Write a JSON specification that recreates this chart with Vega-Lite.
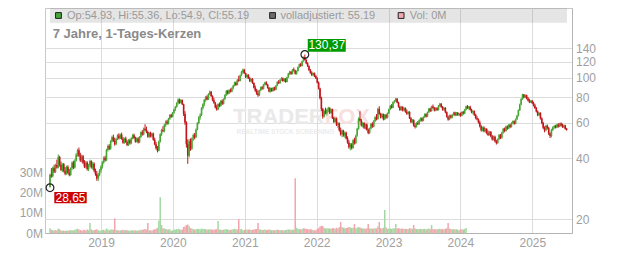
{
  "$schema": "https://vega.github.io/schema/vega-lite/v6.json",
  "width": 527,
  "height": 225,
  "autosize": "none",
  "padding": {"left": 45, "top": 8, "right": 60, "bottom": 20},
  "background": "white",
  "title": {"text": "7 Jahre, 1-Tages-Kerzen", "anchor": "start", "frame": "group", "orient": "top", "offset": -43, "dx": 7.7, "fontSize": 13, "fontWeight": "bold", "color": "#8a8a8a", "font": "Liberation Sans", "baseline": "alphabetic"},
  "config": {
    "font": "Liberation Sans",
    "view": {"stroke": "#c8c8c8", "strokeWidth": 1},
    "axis": {"labelColor": "#a0a0a0", "labelFontSize": 12, "labelFont": "Liberation Sans", "gridColor": "#dcdcdc", "gridWidth": 1, "domainColor": "#b4b4b4", "ticks": false}
  },
  "datasets": {
    "ohlc": [
      {"d":"2018-04-17","o":28.9,"h":33.6,"l":28.65,"c":33.2,"v":2.4},
      {"d":"2018-04-24","o":33.2,"h":35.8,"l":32.1,"c":32.6,"v":1.6},
      {"d":"2018-05-01","o":32.6,"h":36.4,"l":32.2,"c":35.9,"v":1.4},
      {"d":"2018-05-08","o":35.9,"h":37.2,"l":33.8,"c":34.3,"v":1.2},
      {"d":"2018-05-15","o":34.3,"h":37.6,"l":33.9,"c":37.1,"v":1.5},
      {"d":"2018-05-22","o":37.1,"h":39.4,"l":35.6,"c":36.0,"v":1.3},
      {"d":"2018-05-29","o":36.0,"h":41.8,"l":35.7,"c":40.6,"v":2.2},
      {"d":"2018-06-05","o":40.6,"h":41.2,"l":36.4,"c":37.2,"v":1.8},
      {"d":"2018-06-12","o":37.2,"h":38.6,"l":34.6,"c":35.0,"v":1.3},
      {"d":"2018-06-19","o":35.0,"h":37.9,"l":34.2,"c":37.4,"v":1.1},
      {"d":"2018-06-26","o":37.4,"h":38.0,"l":34.1,"c":34.6,"v":1.2},
      {"d":"2018-07-03","o":34.6,"h":36.2,"l":33.0,"c":33.6,"v":1.0},
      {"d":"2018-07-10","o":33.6,"h":36.8,"l":33.2,"c":36.3,"v":1.2},
      {"d":"2018-07-17","o":36.3,"h":37.0,"l":33.4,"c":34.0,"v":1.1},
      {"d":"2018-07-24","o":34.0,"h":35.4,"l":32.6,"c":33.1,"v":1.3},
      {"d":"2018-07-31","o":33.1,"h":36.1,"l":32.8,"c":35.8,"v":1.4},
      {"d":"2018-08-07","o":35.8,"h":38.6,"l":35.0,"c":38.1,"v":1.5},
      {"d":"2018-08-14","o":38.1,"h":38.9,"l":35.4,"c":36.0,"v":1.2},
      {"d":"2018-08-21","o":36.0,"h":39.6,"l":35.6,"c":39.0,"v":1.6},
      {"d":"2018-08-28","o":39.0,"h":42.4,"l":38.6,"c":41.8,"v":1.9},
      {"d":"2018-09-04","o":41.8,"h":44.6,"l":40.8,"c":43.9,"v":2.1},
      {"d":"2018-09-11","o":43.9,"h":45.2,"l":40.6,"c":41.2,"v":1.7},
      {"d":"2018-09-18","o":41.2,"h":42.6,"l":38.4,"c":39.0,"v":1.5},
      {"d":"2018-09-25","o":39.0,"h":41.8,"l":38.2,"c":41.0,"v":1.2},
      {"d":"2018-10-02","o":41.0,"h":41.6,"l":37.4,"c":38.0,"v":1.4},
      {"d":"2018-10-09","o":38.0,"h":39.2,"l":35.8,"c":36.4,"v":1.6},
      {"d":"2018-10-16","o":36.4,"h":38.8,"l":35.7,"c":38.2,"v":1.3},
      {"d":"2018-10-23","o":38.2,"h":38.7,"l":34.8,"c":35.4,"v":1.7},
      {"d":"2018-10-30","o":35.4,"h":37.6,"l":34.6,"c":37.0,"v":1.4},
      {"d":"2018-11-06","o":37.0,"h":39.4,"l":36.2,"c":38.8,"v":5.0},
      {"d":"2018-11-13","o":38.8,"h":39.1,"l":35.6,"c":36.1,"v":1.8},
      {"d":"2018-11-20","o":36.1,"h":38.4,"l":35.2,"c":37.6,"v":1.3},
      {"d":"2018-11-27","o":37.6,"h":38.2,"l":34.2,"c":34.8,"v":1.5},
      {"d":"2018-12-04","o":34.8,"h":35.6,"l":32.8,"c":33.4,"v":1.6},
      {"d":"2018-12-11","o":33.4,"h":34.6,"l":31.0,"c":31.8,"v":1.9},
      {"d":"2018-12-18","o":31.8,"h":33.9,"l":30.9,"c":33.2,"v":1.4},
      {"d":"2018-12-25","o":33.2,"h":35.4,"l":32.6,"c":34.9,"v":1.1},
      {"d":"2019-01-01","o":34.9,"h":37.0,"l":34.0,"c":36.4,"v":1.3},
      {"d":"2019-01-08","o":36.4,"h":38.8,"l":35.6,"c":38.2,"v":1.5},
      {"d":"2019-01-15","o":38.2,"h":40.9,"l":37.6,"c":40.3,"v":1.6},
      {"d":"2019-01-22","o":40.3,"h":41.2,"l":38.5,"c":39.1,"v":1.2},
      {"d":"2019-01-29","o":39.1,"h":44.6,"l":38.8,"c":44.0,"v":2.3},
      {"d":"2019-02-05","o":44.0,"h":46.8,"l":43.2,"c":46.1,"v":1.8},
      {"d":"2019-02-12","o":46.1,"h":47.0,"l":43.9,"c":44.6,"v":1.4},
      {"d":"2019-02-19","o":44.6,"h":49.2,"l":44.1,"c":48.6,"v":1.7},
      {"d":"2019-02-26","o":48.6,"h":51.8,"l":47.9,"c":50.9,"v":1.9},
      {"d":"2019-03-05","o":50.9,"h":52.4,"l":48.2,"c":49.0,"v":1.6},
      {"d":"2019-03-12","o":49.0,"h":50.6,"l":46.2,"c":47.0,"v":7.3},
      {"d":"2019-03-19","o":47.0,"h":50.4,"l":46.5,"c":49.8,"v":1.5},
      {"d":"2019-03-26","o":49.8,"h":52.6,"l":49.2,"c":51.9,"v":1.4},
      {"d":"2019-04-02","o":51.9,"h":53.2,"l":49.6,"c":50.3,"v":1.3},
      {"d":"2019-04-09","o":50.3,"h":53.0,"l":49.8,"c":52.4,"v":1.2},
      {"d":"2019-04-16","o":52.4,"h":53.6,"l":49.4,"c":50.0,"v":1.4},
      {"d":"2019-04-23","o":50.0,"h":51.0,"l":47.2,"c":47.8,"v":1.6},
      {"d":"2019-04-30","o":47.8,"h":50.6,"l":47.2,"c":50.1,"v":1.3},
      {"d":"2019-05-07","o":50.1,"h":51.2,"l":47.6,"c":48.2,"v":1.5},
      {"d":"2019-05-14","o":48.2,"h":49.1,"l":46.0,"c":46.6,"v":1.4},
      {"d":"2019-05-21","o":46.6,"h":49.8,"l":46.1,"c":49.2,"v":1.2},
      {"d":"2019-05-28","o":49.2,"h":50.0,"l":46.8,"c":47.5,"v":1.1},
      {"d":"2019-06-04","o":47.5,"h":50.9,"l":47.0,"c":50.2,"v":1.3},
      {"d":"2019-06-11","o":50.2,"h":52.8,"l":49.6,"c":52.1,"v":1.4},
      {"d":"2019-06-18","o":52.1,"h":53.0,"l":49.9,"c":50.4,"v":1.2},
      {"d":"2019-06-25","o":50.4,"h":51.2,"l":47.8,"c":48.4,"v":1.3},
      {"d":"2019-07-02","o":48.4,"h":50.8,"l":47.9,"c":50.2,"v":1.1},
      {"d":"2019-07-09","o":50.2,"h":50.9,"l":47.4,"c":48.0,"v":1.2},
      {"d":"2019-07-16","o":48.0,"h":51.6,"l":47.6,"c":51.0,"v":1.3},
      {"d":"2019-07-23","o":51.0,"h":54.4,"l":50.5,"c":53.8,"v":1.6},
      {"d":"2019-07-30","o":53.8,"h":55.2,"l":51.8,"c":52.6,"v":1.5},
      {"d":"2019-08-06","o":52.6,"h":56.8,"l":52.0,"c":56.1,"v":1.8},
      {"d":"2019-08-13","o":56.1,"h":59.0,"l":54.6,"c":55.2,"v":2.0},
      {"d":"2019-08-20","o":55.2,"h":57.4,"l":53.2,"c":54.0,"v":1.6},
      {"d":"2019-08-27","o":54.0,"h":54.8,"l":50.6,"c":51.2,"v":5.0},
      {"d":"2019-09-03","o":51.2,"h":54.0,"l":50.4,"c":53.4,"v":1.4},
      {"d":"2019-09-10","o":53.4,"h":54.2,"l":50.8,"c":51.4,"v":1.3},
      {"d":"2019-09-17","o":51.4,"h":53.6,"l":50.6,"c":53.0,"v":1.2},
      {"d":"2019-09-24","o":53.0,"h":53.6,"l":48.9,"c":49.4,"v":1.6},
      {"d":"2019-10-01","o":49.4,"h":50.6,"l":46.4,"c":47.0,"v":1.8},
      {"d":"2019-10-08","o":47.0,"h":48.2,"l":44.2,"c":44.9,"v":2.0},
      {"d":"2019-10-15","o":44.9,"h":46.0,"l":42.8,"c":43.6,"v":2.6},
      {"d":"2019-10-22","o":43.6,"h":49.0,"l":43.3,"c":48.4,"v":6.2},
      {"d":"2019-10-29","o":48.4,"h":53.2,"l":47.8,"c":52.6,"v":17.8},
      {"d":"2019-11-05","o":52.6,"h":56.0,"l":51.6,"c":55.3,"v":4.0},
      {"d":"2019-11-12","o":55.3,"h":57.6,"l":53.9,"c":54.4,"v":2.4},
      {"d":"2019-11-19","o":54.4,"h":59.2,"l":53.8,"c":58.6,"v":2.2},
      {"d":"2019-11-26","o":58.6,"h":61.6,"l":57.2,"c":60.8,"v":2.0},
      {"d":"2019-12-03","o":60.8,"h":62.0,"l":58.6,"c":59.4,"v":1.7},
      {"d":"2019-12-10","o":59.4,"h":63.4,"l":58.8,"c":62.8,"v":1.8},
      {"d":"2019-12-17","o":62.8,"h":66.2,"l":62.0,"c":65.6,"v":1.9},
      {"d":"2019-12-24","o":65.6,"h":66.4,"l":63.4,"c":64.2,"v":1.0},
      {"d":"2019-12-31","o":64.2,"h":67.8,"l":63.8,"c":67.2,"v":1.4},
      {"d":"2020-01-07","o":67.2,"h":70.4,"l":66.4,"c":69.8,"v":1.6},
      {"d":"2020-01-14","o":69.8,"h":72.6,"l":68.6,"c":71.9,"v":1.7},
      {"d":"2020-01-21","o":71.9,"h":75.8,"l":71.2,"c":75.1,"v":1.9},
      {"d":"2020-01-28","o":75.1,"h":79.2,"l":73.8,"c":78.0,"v":2.1},
      {"d":"2020-02-04","o":78.0,"h":79.0,"l":74.4,"c":75.2,"v":1.8},
      {"d":"2020-02-11","o":75.2,"h":78.4,"l":74.6,"c":77.6,"v":1.6},
      {"d":"2020-02-18","o":77.6,"h":78.2,"l":73.4,"c":74.0,"v":1.7},
      {"d":"2020-02-25","o":74.0,"h":74.6,"l":64.8,"c":66.2,"v":3.0},
      {"d":"2020-03-03","o":66.2,"h":68.4,"l":58.6,"c":60.2,"v":3.2},
      {"d":"2020-03-10","o":60.2,"h":61.0,"l":45.2,"c":47.0,"v":4.0},
      {"d":"2020-03-17","o":47.0,"h":49.6,"l":37.6,"c":41.2,"v":4.2},
      {"d":"2020-03-24","o":41.2,"h":49.8,"l":40.4,"c":48.6,"v":3.3},
      {"d":"2020-03-31","o":48.6,"h":50.2,"l":43.6,"c":44.6,"v":2.4},
      {"d":"2020-04-07","o":44.6,"h":50.8,"l":44.0,"c":50.1,"v":2.2},
      {"d":"2020-04-14","o":50.1,"h":53.0,"l":48.8,"c":52.2,"v":1.9},
      {"d":"2020-04-21","o":52.2,"h":53.4,"l":49.6,"c":50.8,"v":1.7},
      {"d":"2020-04-28","o":50.8,"h":56.2,"l":50.4,"c":55.6,"v":1.9},
      {"d":"2020-05-05","o":55.6,"h":60.4,"l":55.0,"c":59.8,"v":2.0},
      {"d":"2020-05-12","o":59.8,"h":64.6,"l":59.0,"c":63.8,"v":2.1},
      {"d":"2020-05-19","o":63.8,"h":66.8,"l":62.2,"c":65.4,"v":1.8},
      {"d":"2020-05-26","o":65.4,"h":71.6,"l":64.8,"c":70.9,"v":2.2},
      {"d":"2020-06-02","o":70.9,"h":74.8,"l":69.6,"c":74.0,"v":2.0},
      {"d":"2020-06-09","o":74.0,"h":78.6,"l":72.4,"c":77.8,"v":2.1},
      {"d":"2020-06-16","o":77.8,"h":81.4,"l":76.2,"c":80.6,"v":1.9},
      {"d":"2020-06-23","o":80.6,"h":82.0,"l":77.4,"c":78.2,"v":1.6},
      {"d":"2020-06-30","o":78.2,"h":84.0,"l":77.8,"c":83.2,"v":1.8},
      {"d":"2020-07-07","o":83.2,"h":86.6,"l":82.0,"c":85.4,"v":1.9},
      {"d":"2020-07-14","o":85.4,"h":86.0,"l":80.4,"c":81.2,"v":1.8},
      {"d":"2020-07-21","o":81.2,"h":82.0,"l":76.6,"c":77.4,"v":1.7},
      {"d":"2020-07-28","o":77.4,"h":79.6,"l":74.4,"c":75.2,"v":1.6},
      {"d":"2020-08-04","o":75.2,"h":76.0,"l":70.6,"c":71.4,"v":1.8},
      {"d":"2020-08-11","o":71.4,"h":73.6,"l":68.8,"c":69.8,"v":1.9},
      {"d":"2020-08-18","o":69.8,"h":74.8,"l":69.2,"c":74.2,"v":6.0},
      {"d":"2020-08-25","o":74.2,"h":75.6,"l":71.6,"c":72.6,"v":1.7},
      {"d":"2020-09-01","o":72.6,"h":77.6,"l":72.0,"c":77.0,"v":1.6},
      {"d":"2020-09-08","o":77.0,"h":78.2,"l":73.4,"c":74.4,"v":1.5},
      {"d":"2020-09-15","o":74.4,"h":79.2,"l":73.8,"c":78.6,"v":1.7},
      {"d":"2020-09-22","o":78.6,"h":83.0,"l":77.8,"c":82.2,"v":1.8},
      {"d":"2020-09-29","o":82.2,"h":87.0,"l":81.4,"c":86.1,"v":2.0},
      {"d":"2020-10-06","o":86.1,"h":87.2,"l":82.6,"c":83.6,"v":1.7},
      {"d":"2020-10-13","o":83.6,"h":87.8,"l":83.0,"c":86.9,"v":1.6},
      {"d":"2020-10-20","o":86.9,"h":88.6,"l":84.6,"c":85.4,"v":1.5},
      {"d":"2020-10-27","o":85.4,"h":89.8,"l":84.8,"c":88.9,"v":1.7},
      {"d":"2020-11-03","o":88.9,"h":92.4,"l":87.6,"c":91.6,"v":1.9},
      {"d":"2020-11-10","o":91.6,"h":95.8,"l":90.6,"c":94.8,"v":2.0},
      {"d":"2020-11-17","o":94.8,"h":96.0,"l":91.2,"c":92.2,"v":1.7},
      {"d":"2020-11-24","o":92.2,"h":98.6,"l":91.8,"c":97.8,"v":1.8},
      {"d":"2020-12-01","o":97.8,"h":102.4,"l":95.6,"c":96.4,"v":7.0},
      {"d":"2020-12-08","o":96.4,"h":103.6,"l":96.0,"c":102.8,"v":1.9},
      {"d":"2020-12-15","o":102.8,"h":108.2,"l":102.0,"c":107.2,"v":2.0},
      {"d":"2020-12-22","o":107.2,"h":111.0,"l":104.8,"c":109.6,"v":1.4},
      {"d":"2020-12-29","o":109.6,"h":110.8,"l":104.6,"c":105.4,"v":1.5},
      {"d":"2021-01-05","o":105.4,"h":106.2,"l":99.8,"c":101.0,"v":1.8},
      {"d":"2021-01-12","o":101.0,"h":104.6,"l":99.2,"c":103.4,"v":1.6},
      {"d":"2021-01-19","o":103.4,"h":104.2,"l":98.6,"c":99.4,"v":1.7},
      {"d":"2021-01-26","o":99.4,"h":101.2,"l":95.2,"c":96.2,"v":1.8},
      {"d":"2021-02-02","o":96.2,"h":99.8,"l":95.0,"c":98.6,"v":1.5},
      {"d":"2021-02-09","o":98.6,"h":99.6,"l":93.4,"c":94.2,"v":1.6},
      {"d":"2021-02-16","o":94.2,"h":95.0,"l":88.6,"c":89.4,"v":1.8},
      {"d":"2021-02-23","o":89.4,"h":91.6,"l":85.2,"c":86.4,"v":1.9},
      {"d":"2021-03-02","o":86.4,"h":88.2,"l":82.4,"c":83.6,"v":2.0},
      {"d":"2021-03-09","o":83.6,"h":86.8,"l":80.6,"c":82.0,"v":5.0},
      {"d":"2021-03-16","o":82.0,"h":87.4,"l":81.2,"c":86.8,"v":1.8},
      {"d":"2021-03-23","o":86.8,"h":90.6,"l":85.8,"c":89.8,"v":1.7},
      {"d":"2021-03-30","o":89.8,"h":91.2,"l":87.2,"c":88.2,"v":1.5},
      {"d":"2021-04-06","o":88.2,"h":93.4,"l":87.6,"c":92.6,"v":1.6},
      {"d":"2021-04-13","o":92.6,"h":95.6,"l":91.4,"c":94.8,"v":1.7},
      {"d":"2021-04-20","o":94.8,"h":96.2,"l":91.8,"c":92.6,"v":1.5},
      {"d":"2021-04-27","o":92.6,"h":93.4,"l":88.4,"c":89.2,"v":1.6},
      {"d":"2021-05-04","o":89.2,"h":90.0,"l":84.8,"c":85.6,"v":1.8},
      {"d":"2021-05-11","o":85.6,"h":89.6,"l":84.6,"c":88.8,"v":1.6},
      {"d":"2021-05-18","o":88.8,"h":89.4,"l":85.2,"c":86.0,"v":1.4},
      {"d":"2021-05-25","o":86.0,"h":90.2,"l":85.6,"c":89.4,"v":1.5},
      {"d":"2021-06-01","o":89.4,"h":90.4,"l":86.4,"c":87.4,"v":1.3},
      {"d":"2021-06-08","o":87.4,"h":92.2,"l":86.8,"c":91.4,"v":1.5},
      {"d":"2021-06-15","o":91.4,"h":96.2,"l":90.8,"c":95.4,"v":1.7},
      {"d":"2021-06-22","o":95.4,"h":97.4,"l":93.2,"c":94.0,"v":1.5},
      {"d":"2021-06-29","o":94.0,"h":98.6,"l":93.6,"c":97.8,"v":1.4},
      {"d":"2021-07-06","o":97.8,"h":100.8,"l":96.6,"c":99.6,"v":1.5},
      {"d":"2021-07-13","o":99.6,"h":100.4,"l":95.6,"c":96.4,"v":1.4},
      {"d":"2021-07-20","o":96.4,"h":99.8,"l":95.2,"c":98.8,"v":1.3},
      {"d":"2021-07-27","o":98.8,"h":99.6,"l":94.6,"c":95.4,"v":1.5},
      {"d":"2021-08-03","o":95.4,"h":101.4,"l":95.0,"c":100.6,"v":1.6},
      {"d":"2021-08-10","o":100.6,"h":105.8,"l":99.8,"c":105.0,"v":1.8},
      {"d":"2021-08-17","o":105.0,"h":108.4,"l":103.2,"c":107.2,"v":1.7},
      {"d":"2021-08-24","o":107.2,"h":108.0,"l":103.4,"c":104.4,"v":1.5},
      {"d":"2021-08-31","o":104.4,"h":110.6,"l":104.0,"c":109.8,"v":1.7},
      {"d":"2021-09-07","o":109.8,"h":112.4,"l":107.4,"c":108.6,"v":1.6},
      {"d":"2021-09-14","o":108.6,"h":109.6,"l":103.8,"c":104.8,"v":27.3},
      {"d":"2021-09-21","o":104.8,"h":108.8,"l":103.6,"c":108.0,"v":2.6},
      {"d":"2021-09-28","o":108.0,"h":113.8,"l":107.4,"c":113.0,"v":2.0},
      {"d":"2021-10-05","o":113.0,"h":117.6,"l":112.0,"c":116.8,"v":2.1},
      {"d":"2021-10-12","o":116.8,"h":118.4,"l":113.2,"c":114.4,"v":1.8},
      {"d":"2021-10-19","o":114.4,"h":121.6,"l":114.0,"c":120.8,"v":2.0},
      {"d":"2021-10-26","o":120.8,"h":127.4,"l":120.2,"c":126.6,"v":2.4},
      {"d":"2021-11-02","o":126.6,"h":130.37,"l":121.4,"c":122.4,"v":2.2},
      {"d":"2021-11-09","o":122.4,"h":123.6,"l":116.8,"c":118.0,"v":2.0},
      {"d":"2021-11-16","o":118.0,"h":119.4,"l":113.0,"c":114.2,"v":1.9},
      {"d":"2021-11-23","o":114.2,"h":115.2,"l":108.0,"c":109.2,"v":1.8},
      {"d":"2021-11-30","o":109.2,"h":110.6,"l":104.6,"c":106.0,"v":1.9},
      {"d":"2021-12-07","o":106.0,"h":107.8,"l":102.0,"c":103.2,"v":1.7},
      {"d":"2021-12-14","o":103.2,"h":106.4,"l":101.8,"c":105.6,"v":1.5},
      {"d":"2021-12-21","o":105.6,"h":106.2,"l":100.8,"c":101.8,"v":1.3},
      {"d":"2021-12-28","o":101.8,"h":103.4,"l":98.6,"c":99.4,"v":1.4},
      {"d":"2022-01-04","o":99.4,"h":100.6,"l":93.8,"c":94.6,"v":2.0},
      {"d":"2022-01-11","o":94.6,"h":96.0,"l":87.6,"c":88.6,"v":2.4},
      {"d":"2022-01-18","o":88.6,"h":89.4,"l":78.2,"c":79.4,"v":3.2},
      {"d":"2022-01-25","o":79.4,"h":80.6,"l":68.4,"c":70.2,"v":3.6},
      {"d":"2022-02-01","o":70.2,"h":71.0,"l":62.8,"c":64.4,"v":3.4},
      {"d":"2022-02-08","o":64.4,"h":69.6,"l":63.6,"c":68.6,"v":2.6},
      {"d":"2022-02-15","o":68.6,"h":71.2,"l":66.0,"c":66.8,"v":2.2},
      {"d":"2022-02-22","o":66.8,"h":70.4,"l":65.2,"c":69.6,"v":2.4},
      {"d":"2022-03-01","o":69.6,"h":72.0,"l":67.8,"c":70.8,"v":2.2},
      {"d":"2022-03-08","o":70.8,"h":71.6,"l":66.2,"c":67.0,"v":2.3},
      {"d":"2022-03-15","o":67.0,"h":70.6,"l":66.4,"c":69.8,"v":2.0},
      {"d":"2022-03-22","o":69.8,"h":70.4,"l":62.6,"c":63.4,"v":2.5},
      {"d":"2022-03-29","o":63.4,"h":64.2,"l":59.8,"c":60.6,"v":2.4},
      {"d":"2022-04-05","o":60.6,"h":63.8,"l":60.0,"c":63.0,"v":2.1},
      {"d":"2022-04-12","o":63.0,"h":63.6,"l":57.8,"c":58.4,"v":2.6},
      {"d":"2022-04-19","o":58.4,"h":60.6,"l":56.6,"c":59.6,"v":2.2},
      {"d":"2022-04-26","o":59.6,"h":60.2,"l":54.2,"c":55.0,"v":2.9},
      {"d":"2022-05-03","o":55.0,"h":56.8,"l":51.8,"c":52.6,"v":5.5},
      {"d":"2022-05-10","o":52.6,"h":55.6,"l":50.8,"c":54.8,"v":3.0},
      {"d":"2022-05-17","o":54.8,"h":55.4,"l":51.2,"c":52.0,"v":2.6},
      {"d":"2022-05-24","o":52.0,"h":54.2,"l":50.6,"c":53.6,"v":2.4},
      {"d":"2022-05-31","o":53.6,"h":54.2,"l":49.6,"c":50.2,"v":2.5},
      {"d":"2022-06-07","o":50.2,"h":51.4,"l":47.2,"c":47.8,"v":2.6},
      {"d":"2022-06-14","o":47.8,"h":49.2,"l":44.6,"c":45.4,"v":3.0},
      {"d":"2022-06-21","o":45.4,"h":47.6,"l":43.8,"c":46.8,"v":2.8},
      {"d":"2022-06-28","o":46.8,"h":47.6,"l":44.2,"c":45.0,"v":2.4},
      {"d":"2022-07-05","o":45.0,"h":49.8,"l":44.6,"c":49.2,"v":2.6},
      {"d":"2022-07-12","o":49.2,"h":50.6,"l":46.8,"c":47.6,"v":4.5},
      {"d":"2022-07-19","o":47.6,"h":52.4,"l":47.0,"c":51.8,"v":2.4},
      {"d":"2022-07-26","o":51.8,"h":56.6,"l":51.2,"c":56.0,"v":2.6},
      {"d":"2022-08-02","o":56.0,"h":63.8,"l":55.4,"c":62.8,"v":3.0},
      {"d":"2022-08-09","o":62.8,"h":68.4,"l":60.8,"c":61.6,"v":2.8},
      {"d":"2022-08-16","o":61.6,"h":62.6,"l":57.4,"c":58.2,"v":2.4},
      {"d":"2022-08-23","o":58.2,"h":60.6,"l":56.8,"c":59.8,"v":2.2},
      {"d":"2022-08-30","o":59.8,"h":60.4,"l":55.8,"c":56.6,"v":2.3},
      {"d":"2022-09-06","o":56.6,"h":59.4,"l":55.6,"c":58.8,"v":2.1},
      {"d":"2022-09-13","o":58.8,"h":59.6,"l":54.8,"c":55.4,"v":2.4},
      {"d":"2022-09-20","o":55.4,"h":56.2,"l":52.6,"c":53.4,"v":4.5},
      {"d":"2022-09-27","o":53.4,"h":56.8,"l":52.8,"c":56.2,"v":2.3},
      {"d":"2022-10-04","o":56.2,"h":59.8,"l":55.6,"c":59.2,"v":2.2},
      {"d":"2022-10-11","o":59.2,"h":60.4,"l":56.6,"c":57.4,"v":2.1},
      {"d":"2022-10-18","o":57.4,"h":61.8,"l":57.0,"c":61.2,"v":2.2},
      {"d":"2022-10-25","o":61.2,"h":64.6,"l":60.4,"c":63.8,"v":2.4},
      {"d":"2022-11-01","o":63.8,"h":66.2,"l":61.6,"c":62.6,"v":2.3},
      {"d":"2022-11-08","o":62.6,"h":71.2,"l":62.0,"c":70.2,"v":3.2},
      {"d":"2022-11-15","o":70.2,"h":72.4,"l":65.6,"c":66.4,"v":5.5},
      {"d":"2022-11-22","o":66.4,"h":67.2,"l":63.0,"c":63.8,"v":2.4},
      {"d":"2022-11-29","o":63.8,"h":66.8,"l":63.2,"c":66.0,"v":2.2},
      {"d":"2022-12-06","o":66.0,"h":66.6,"l":61.6,"c":62.4,"v":2.6},
      {"d":"2022-12-13","o":62.4,"h":66.2,"l":61.8,"c":65.6,"v":11.5},
      {"d":"2022-12-20","o":65.6,"h":66.4,"l":62.8,"c":63.6,"v":2.8},
      {"d":"2022-12-27","o":63.6,"h":67.4,"l":63.0,"c":66.8,"v":2.0},
      {"d":"2023-01-03","o":66.8,"h":70.6,"l":66.2,"c":70.0,"v":2.2},
      {"d":"2023-01-10","o":70.0,"h":73.4,"l":69.2,"c":72.6,"v":2.3},
      {"d":"2023-01-17","o":72.6,"h":74.2,"l":70.4,"c":71.2,"v":2.0},
      {"d":"2023-01-24","o":71.2,"h":76.6,"l":70.8,"c":75.8,"v":2.4},
      {"d":"2023-01-31","o":75.8,"h":77.8,"l":74.8,"c":76.6,"v":2.3},
      {"d":"2023-02-07","o":76.6,"h":79.6,"l":76.0,"c":78.8,"v":4.5},
      {"d":"2023-02-14","o":78.8,"h":79.4,"l":74.8,"c":75.4,"v":2.2},
      {"d":"2023-02-21","o":75.4,"h":76.2,"l":71.2,"c":72.0,"v":2.4},
      {"d":"2023-02-28","o":72.0,"h":72.8,"l":68.6,"c":69.4,"v":2.3},
      {"d":"2023-03-07","o":69.4,"h":72.6,"l":68.8,"c":71.8,"v":2.1},
      {"d":"2023-03-14","o":71.8,"h":72.4,"l":68.2,"c":69.0,"v":2.2},
      {"d":"2023-03-21","o":69.0,"h":71.6,"l":68.4,"c":70.8,"v":2.0},
      {"d":"2023-03-28","o":70.8,"h":71.4,"l":67.2,"c":68.0,"v":2.1},
      {"d":"2023-04-04","o":68.0,"h":69.8,"l":65.6,"c":66.4,"v":2.0},
      {"d":"2023-04-11","o":66.4,"h":68.6,"l":65.8,"c":67.8,"v":1.9},
      {"d":"2023-04-18","o":67.8,"h":68.4,"l":62.6,"c":63.2,"v":2.4},
      {"d":"2023-04-25","o":63.2,"h":64.0,"l":59.8,"c":60.4,"v":2.3},
      {"d":"2023-05-02","o":60.4,"h":62.6,"l":59.6,"c":61.8,"v":2.1},
      {"d":"2023-05-09","o":61.8,"h":62.4,"l":57.4,"c":58.0,"v":4.0},
      {"d":"2023-05-16","o":58.0,"h":59.6,"l":56.2,"c":57.2,"v":2.2},
      {"d":"2023-05-23","o":57.2,"h":60.4,"l":56.8,"c":59.8,"v":2.0},
      {"d":"2023-05-30","o":59.8,"h":61.2,"l":58.4,"c":59.0,"v":1.9},
      {"d":"2023-06-06","o":59.0,"h":62.4,"l":58.6,"c":61.8,"v":2.0},
      {"d":"2023-06-13","o":61.8,"h":63.8,"l":60.8,"c":63.2,"v":2.1},
      {"d":"2023-06-20","o":63.2,"h":63.8,"l":60.6,"c":61.4,"v":1.9},
      {"d":"2023-06-27","o":61.4,"h":64.6,"l":61.0,"c":64.0,"v":2.0},
      {"d":"2023-07-04","o":64.0,"h":66.8,"l":63.4,"c":66.2,"v":2.1},
      {"d":"2023-07-11","o":66.2,"h":66.8,"l":63.6,"c":64.4,"v":1.8},
      {"d":"2023-07-18","o":64.4,"h":68.2,"l":64.0,"c":67.6,"v":2.0},
      {"d":"2023-07-25","o":67.6,"h":71.0,"l":67.0,"c":70.4,"v":2.2},
      {"d":"2023-08-01","o":70.4,"h":71.2,"l":67.8,"c":68.6,"v":1.9},
      {"d":"2023-08-08","o":68.6,"h":72.8,"l":68.0,"c":72.2,"v":4.0},
      {"d":"2023-08-15","o":72.2,"h":73.8,"l":70.4,"c":71.0,"v":2.0},
      {"d":"2023-08-22","o":71.0,"h":71.8,"l":68.2,"c":69.0,"v":1.9},
      {"d":"2023-08-29","o":69.0,"h":71.6,"l":68.4,"c":71.0,"v":1.8},
      {"d":"2023-09-05","o":71.0,"h":71.6,"l":68.6,"c":69.4,"v":1.9},
      {"d":"2023-09-12","o":69.4,"h":73.4,"l":69.0,"c":72.8,"v":2.0},
      {"d":"2023-09-19","o":72.8,"h":75.2,"l":71.8,"c":74.4,"v":2.1},
      {"d":"2023-09-26","o":74.4,"h":75.0,"l":71.0,"c":71.8,"v":1.9},
      {"d":"2023-10-03","o":71.8,"h":72.6,"l":68.8,"c":69.6,"v":2.0},
      {"d":"2023-10-10","o":69.6,"h":71.8,"l":68.6,"c":71.0,"v":1.8},
      {"d":"2023-10-17","o":71.0,"h":71.6,"l":66.8,"c":67.6,"v":2.1},
      {"d":"2023-10-24","o":67.6,"h":68.2,"l":63.6,"c":64.2,"v":2.4},
      {"d":"2023-10-31","o":64.2,"h":65.0,"l":61.4,"c":62.2,"v":5.0},
      {"d":"2023-11-07","o":62.2,"h":65.8,"l":61.8,"c":65.2,"v":2.2},
      {"d":"2023-11-14","o":65.2,"h":65.8,"l":62.8,"c":63.6,"v":2.0},
      {"d":"2023-11-21","o":63.6,"h":66.2,"l":63.0,"c":65.6,"v":1.8},
      {"d":"2023-11-28","o":65.6,"h":68.0,"l":65.0,"c":67.4,"v":1.9},
      {"d":"2023-12-05","o":67.4,"h":68.0,"l":64.6,"c":65.4,"v":1.8},
      {"d":"2023-12-12","o":65.4,"h":67.8,"l":64.8,"c":67.2,"v":1.9},
      {"d":"2023-12-19","o":67.2,"h":67.8,"l":64.8,"c":65.6,"v":1.6},
      {"d":"2023-12-26","o":65.6,"h":67.0,"l":64.6,"c":66.4,"v":1.4},
      {"d":"2024-01-02","o":66.4,"h":67.4,"l":64.2,"c":65.0,"v":1.8},
      {"d":"2024-01-09","o":65.0,"h":68.4,"l":64.6,"c":67.8,"v":1.9},
      {"d":"2024-01-16","o":67.8,"h":68.6,"l":65.8,"c":66.6,"v":1.7},
      {"d":"2024-01-23","o":66.6,"h":70.2,"l":66.2,"c":69.6,"v":2.0},
      {"d":"2024-01-30","o":69.6,"h":72.8,"l":69.0,"c":72.2,"v":2.5},
      {"d":"2024-02-06","o":72.2,"h":73.4,"l":70.2,"c":71.0},
      {"d":"2024-02-13","o":71.0,"h":72.6,"l":69.6,"c":72.0},
      {"d":"2024-02-20","o":72.0,"h":72.8,"l":68.8,"c":69.6},
      {"d":"2024-02-27","o":69.6,"h":70.4,"l":66.8,"c":67.6},
      {"d":"2024-03-05","o":67.6,"h":69.2,"l":66.0,"c":68.4},
      {"d":"2024-03-12","o":68.4,"h":69.0,"l":64.8,"c":65.6},
      {"d":"2024-03-19","o":65.6,"h":66.4,"l":62.4,"c":63.2},
      {"d":"2024-03-26","o":63.2,"h":64.6,"l":61.6,"c":62.2},
      {"d":"2024-04-02","o":62.2,"h":63.0,"l":59.4,"c":60.2},
      {"d":"2024-04-09","o":60.2,"h":61.4,"l":56.8,"c":57.6},
      {"d":"2024-04-16","o":57.6,"h":58.4,"l":54.2,"c":55.0},
      {"d":"2024-04-23","o":55.0,"h":57.4,"l":54.4,"c":56.8},
      {"d":"2024-04-30","o":56.8,"h":57.6,"l":53.8,"c":54.4},
      {"d":"2024-05-07","o":54.4,"h":56.6,"l":53.6,"c":55.8},
      {"d":"2024-05-14","o":55.8,"h":56.4,"l":52.6,"c":53.4},
      {"d":"2024-05-21","o":53.4,"h":54.8,"l":51.6,"c":52.2},
      {"d":"2024-05-28","o":52.2,"h":54.6,"l":51.8,"c":54.0},
      {"d":"2024-06-04","o":54.0,"h":54.6,"l":50.8,"c":51.4},
      {"d":"2024-06-11","o":51.4,"h":52.2,"l":49.0,"c":49.6},
      {"d":"2024-06-18","o":49.6,"h":51.8,"l":49.0,"c":51.2},
      {"d":"2024-06-25","o":51.2,"h":51.8,"l":48.0,"c":48.6},
      {"d":"2024-07-02","o":48.6,"h":49.4,"l":46.8,"c":47.6},
      {"d":"2024-07-09","o":47.6,"h":50.2,"l":47.2,"c":49.8},
      {"d":"2024-07-16","o":49.8,"h":52.8,"l":49.2,"c":52.2},
      {"d":"2024-07-23","o":52.2,"h":52.8,"l":49.8,"c":50.6},
      {"d":"2024-07-30","o":50.6,"h":54.2,"l":50.0,"c":53.6},
      {"d":"2024-08-06","o":53.6,"h":56.6,"l":53.0,"c":56.0},
      {"d":"2024-08-13","o":56.0,"h":56.8,"l":53.8,"c":54.6},
      {"d":"2024-08-20","o":54.6,"h":58.0,"l":54.2,"c":57.4},
      {"d":"2024-08-27","o":57.4,"h":58.2,"l":55.4,"c":56.2},
      {"d":"2024-09-03","o":56.2,"h":59.2,"l":55.8,"c":58.6},
      {"d":"2024-09-10","o":58.6,"h":59.2,"l":56.4,"c":57.2},
      {"d":"2024-09-17","o":57.2,"h":60.4,"l":56.8,"c":59.8},
      {"d":"2024-09-24","o":59.8,"h":61.6,"l":59.0,"c":61.0},
      {"d":"2024-10-01","o":61.0,"h":61.6,"l":58.6,"c":59.4},
      {"d":"2024-10-08","o":59.4,"h":63.0,"l":59.0,"c":62.4},
      {"d":"2024-10-15","o":62.4,"h":65.6,"l":62.0,"c":65.0},
      {"d":"2024-10-22","o":65.0,"h":69.8,"l":64.4,"c":69.2},
      {"d":"2024-10-29","o":69.2,"h":74.6,"l":68.6,"c":73.8},
      {"d":"2024-11-05","o":73.8,"h":79.4,"l":73.2,"c":78.6},
      {"d":"2024-11-12","o":78.6,"h":83.4,"l":77.8,"c":82.6},
      {"d":"2024-11-19","o":82.6,"h":83.2,"l":79.2,"c":80.0},
      {"d":"2024-11-26","o":80.0,"h":82.8,"l":79.4,"c":82.0},
      {"d":"2024-12-03","o":82.0,"h":82.6,"l":78.2,"c":79.0},
      {"d":"2024-12-10","o":79.0,"h":80.4,"l":76.4,"c":77.2},
      {"d":"2024-12-17","o":77.2,"h":78.8,"l":75.0,"c":75.8},
      {"d":"2024-12-24","o":75.8,"h":77.8,"l":75.2,"c":77.0},
      {"d":"2024-12-31","o":77.0,"h":77.6,"l":74.2,"c":75.0},
      {"d":"2025-01-07","o":75.0,"h":76.2,"l":72.2,"c":73.0},
      {"d":"2025-01-14","o":73.0,"h":74.4,"l":70.2,"c":71.0},
      {"d":"2025-01-21","o":71.0,"h":71.8,"l":67.4,"c":68.2},
      {"d":"2025-01-28","o":68.2,"h":69.0,"l":64.6,"c":65.4},
      {"d":"2025-02-04","o":65.4,"h":67.8,"l":64.8,"c":67.0},
      {"d":"2025-02-11","o":67.0,"h":67.6,"l":62.2,"c":63.0},
      {"d":"2025-02-18","o":63.0,"h":63.8,"l":59.0,"c":59.8},
      {"d":"2025-02-25","o":59.8,"h":60.6,"l":55.8,"c":56.6},
      {"d":"2025-03-04","o":56.6,"h":57.6,"l":53.8,"c":55.0},
      {"d":"2025-03-11","o":55.0,"h":58.6,"l":54.4,"c":58.0},
      {"d":"2025-03-18","o":58.0,"h":58.8,"l":55.6,"c":56.4},
      {"d":"2025-03-25","o":56.4,"h":57.2,"l":52.2,"c":53.0},
      {"d":"2025-04-01","o":53.0,"h":53.8,"l":50.4,"c":51.6},
      {"d":"2025-04-08","o":51.6,"h":56.0,"l":50.8,"c":55.2},
      {"d":"2025-04-15","o":55.2,"h":57.6,"l":54.6,"c":57.0},
      {"d":"2025-04-22","o":57.0,"h":58.4,"l":56.0,"c":57.8},
      {"d":"2025-04-29","o":57.8,"h":58.6,"l":56.2,"c":56.8},
      {"d":"2025-05-06","o":56.8,"h":59.4,"l":56.4,"c":58.8},
      {"d":"2025-05-13","o":58.8,"h":59.6,"l":56.8,"c":57.4},
      {"d":"2025-05-20","o":57.4,"h":60.0,"l":57.0,"c":59.4},
      {"d":"2025-05-27","o":59.4,"h":60.2,"l":57.6,"c":58.2},
      {"d":"2025-06-03","o":58.2,"h":59.4,"l":56.6,"c":57.0},
      {"d":"2025-06-10","o":57.0,"h":58.8,"l":56.4,"c":58.2},
      {"d":"2025-06-17","o":58.2,"h":58.6,"l":55.4,"c":56.0},
      {"d":"2025-06-24","o":56.0,"h":56.6,"l":54.9,"c":55.19}
    ],
    "ann": [
      {"d":"2021-11-02","p":130.37,"lab":"130,37","kind":"max"},
      {"d":"2018-04-17","p":28.65,"lab":"28,65","kind":"min"}
    ]
  },
  "resolve": {"scale": {"y": "independent"}, "axis": {"y": "independent"}},
  "layer": [
    {
      "data": {"name": "ohlc"},
      "transform": [{"filter": "isValid(datum.v)"}],
      "mark": {"type": "bar", "size": 1.5},
      "encoding": {
        "x": {"field": "d", "type": "temporal", "title": null, "scale": {"domain": [{"year": 2018, "month": 4, "date": 17}, {"year": 2025, "month": 6, "date": 26}]}, "axis": {"format": "%Y", "tickCount": {"interval": "year", "step": 1}, "grid": true, "domain": true, "labelPadding": 4, "title": null}},
        "y": {"field": "v", "type": "quantitative", "title": null, "scale": {"domain": [0, 112], "nice": false}, "axis": {"orient": "left", "values": [0, 10, 20, 30], "labelExpr": "datum.value + 'M'", "grid": false, "domain": false, "labelPadding": 2.5, "title": null}},
        "color": {"condition": {"test": "datum.c >= datum.o", "value": "#a3d9a0"}, "value": "#f2a5ad"}
      }
    },
    {
      "layer": [
        {
          "data": {"values": [{}]},
          "mark": {"type": "rect", "fill": "#888888", "opacity": 0.22},
          "encoding": {
            "x": {"datum": {"year": 2018, "month": 4, "date": 17}, "type": "temporal", "title": null},
            "x2": {"datum": {"year": 2025, "month": 6, "date": 26}},
            "y": {"datum": 187.2, "type": "quantitative", "title": null, "scale": {"type": "log", "domain": [17.11, 221.3], "nice": false, "zero": false}, "axis": {"orient": "right", "values": [20, 40, 60, 80, 100, 120, 140], "grid": true, "gridColor": "#dcdcdc", "gridOpacity": 1, "gridWidth": 1, "domain": true, "labelPadding": 3.5, "title": null}},
            "y2": {"datum": 221.3}
          }
        },
        {
          "data": {"values": [{}]},
          "mark": {"type": "text", "text": "TRADER", "align": "right", "baseline": "alphabetic", "fontSize": 22, "fontWeight": "bold", "color": "#e9e9e9"},
          "encoding": {
            "x": {"datum": {"year": 2022, "month": 2, "date": 11}, "type": "temporal", "title": null},
            "y": {"datum": 59.1, "type": "quantitative", "title": null}
          }
        },
        {
          "data": {"values": [{}]},
          "mark": {"type": "text", "text": "FOX", "align": "left", "baseline": "alphabetic", "fontSize": 22, "fontWeight": "bold", "color": "#f8e0e0"},
          "encoding": {
            "x": {"datum": {"year": 2022, "month": 2, "date": 11}, "type": "temporal", "title": null},
            "y": {"datum": 59.1, "type": "quantitative", "title": null}
          }
        },
        {
          "data": {"values": [{}]},
          "mark": {"type": "text", "text": "REALTIME STOCK SCREENING", "align": "center", "baseline": "middle", "fontSize": 6.5, "fontWeight": "bold", "color": "#ececec"},
          "encoding": {
            "x": {"datum": {"year": 2021, "month": 7, "date": 26}, "type": "temporal", "title": null},
            "y": {"datum": 53.8, "type": "quantitative", "title": null}
          }
        },
        {
          "data": {"values": [{}]},
          "mark": {"type": "square", "size": 34, "filled": true, "fill": "#44a637", "stroke": "#222222", "strokeWidth": 1, "opacity": 1},
          "encoding": {
            "x": {"datum": {"year": 2018, "month": 5, "date": 30}, "type": "temporal", "title": null},
            "y": {"datum": 203.2, "type": "quantitative", "title": null}
          }
        },
        {
          "data": {"values": [{}]},
          "mark": {"type": "text", "text": "Op:54.93, Hi:55.36, Lo:54.9, Cl:55.19", "align": "left", "baseline": "middle", "fontSize": 11, "color": "#9a9a9a"},
          "encoding": {
            "x": {"datum": {"year": 2018, "month": 7, "date": 12}, "type": "temporal", "title": null},
            "y": {"datum": 203.2, "type": "quantitative", "title": null}
          }
        },
        {
          "data": {"values": [{}]},
          "mark": {"type": "square", "size": 34, "filled": true, "fill": "#6b6b6b", "stroke": "#222222", "strokeWidth": 1, "opacity": 1},
          "encoding": {
            "x": {"datum": {"year": 2021, "month": 5, "date": 22}, "type": "temporal", "title": null},
            "y": {"datum": 203.2, "type": "quantitative", "title": null}
          }
        },
        {
          "data": {"values": [{}]},
          "mark": {"type": "text", "text": "volladjustiert: 55.19", "align": "left", "baseline": "middle", "fontSize": 11, "color": "#9a9a9a"},
          "encoding": {
            "x": {"datum": {"year": 2021, "month": 7, "date": 1}, "type": "temporal", "title": null},
            "y": {"datum": 203.2, "type": "quantitative", "title": null}
          }
        },
        {
          "data": {"values": [{}]},
          "mark": {"type": "square", "size": 34, "filled": true, "fill": "#f0a8b0", "stroke": "#222222", "strokeWidth": 1, "opacity": 1},
          "encoding": {
            "x": {"datum": {"year": 2023, "month": 3, "date": 6}, "type": "temporal", "title": null},
            "y": {"datum": 203.2, "type": "quantitative", "title": null}
          }
        },
        {
          "data": {"values": [{}]},
          "mark": {"type": "text", "text": "Vol: 0M", "align": "left", "baseline": "middle", "fontSize": 11, "color": "#9a9a9a"},
          "encoding": {
            "x": {"datum": {"year": 2023, "month": 4, "date": 19}, "type": "temporal", "title": null},
            "y": {"datum": 203.2, "type": "quantitative", "title": null}
          }
        },
        {
          "data": {"name": "ohlc"},
          "mark": {"type": "rule", "strokeWidth": 1},
          "encoding": {
            "x": {"field": "d", "type": "temporal", "title": null},
            "y": {"field": "l", "type": "quantitative", "title": null},
            "y2": {"field": "h"},
            "color": {"condition": {"test": "datum.c >= datum.o", "value": "#47a632"}, "value": "#c4141b"}
          }
        },
        {
          "data": {"name": "ohlc"},
          "mark": {"type": "bar", "size": 1.6},
          "encoding": {
            "x": {"field": "d", "type": "temporal", "title": null},
            "y": {"field": "o", "type": "quantitative", "title": null},
            "y2": {"field": "c"},
            "color": {"condition": {"test": "datum.c >= datum.o", "value": "#47a632"}, "value": "#c4141b"}
          }
        },
        {
          "data": {"name": "ann"},
          "mark": {"type": "point", "shape": "circle", "size": 60, "filled": false, "stroke": "#222222", "strokeWidth": 1.2, "opacity": 1},
          "encoding": {
            "x": {"field": "d", "type": "temporal", "title": null},
            "y": {"field": "p", "type": "quantitative", "title": null}
          }
        },
        {
          "data": {"name": "ann"},
          "transform": [{"filter": "datum.kind == 'max'"}],
          "mark": {"type": "rect", "fill": "#009900", "xOffset": 2.9, "x2Offset": 40.9, "yOffset": -15.5, "y2Offset": -2.8},
          "encoding": {
            "x": {"field": "d", "type": "temporal", "title": null},
            "x2": {"field": "d"},
            "y": {"field": "p", "type": "quantitative", "title": null},
            "y2": {"field": "p"}
          }
        },
        {
          "data": {"name": "ann"},
          "transform": [{"filter": "datum.kind == 'max'"}],
          "mark": {"type": "text", "color": "white", "fontSize": 12, "align": "center", "baseline": "middle", "dx": 21.9, "dy": -9.1},
          "encoding": {
            "x": {"field": "d", "type": "temporal", "title": null},
            "y": {"field": "p", "type": "quantitative", "title": null},
            "text": {"field": "lab"}
          }
        },
        {
          "data": {"name": "ann"},
          "transform": [{"filter": "datum.kind == 'min'"}],
          "mark": {"type": "rect", "fill": "#cc0000", "xOffset": 4.3, "x2Offset": 36.7, "yOffset": 4.3, "y2Offset": 15.6},
          "encoding": {
            "x": {"field": "d", "type": "temporal", "title": null},
            "x2": {"field": "d"},
            "y": {"field": "p", "type": "quantitative", "title": null},
            "y2": {"field": "p"}
          }
        },
        {
          "data": {"name": "ann"},
          "transform": [{"filter": "datum.kind == 'min'"}],
          "mark": {"type": "text", "color": "white", "fontSize": 12, "align": "center", "baseline": "middle", "dx": 20.5, "dy": 10},
          "encoding": {
            "x": {"field": "d", "type": "temporal", "title": null},
            "y": {"field": "p", "type": "quantitative", "title": null},
            "text": {"field": "lab"}
          }
        }
      ]
    }
  ]
}
